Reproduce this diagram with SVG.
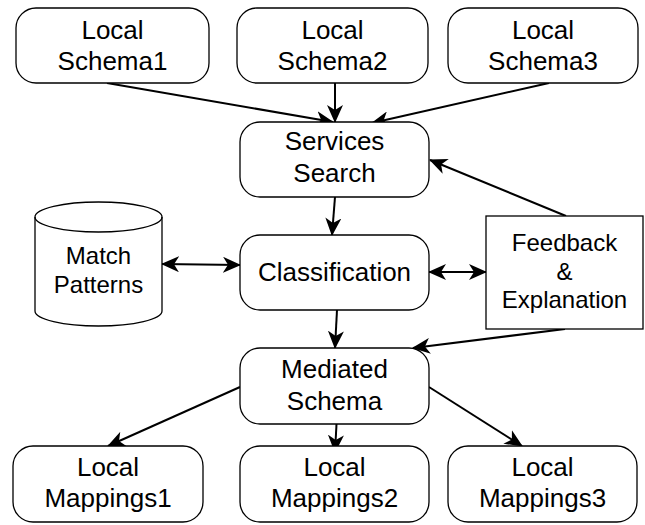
<svg xmlns="http://www.w3.org/2000/svg" width="645" height="525" viewBox="0 0 645 525">
  <defs>
    <marker id="arrow" viewBox="0 0 18 16" refX="17" refY="8" markerWidth="18" markerHeight="16" markerUnits="userSpaceOnUse" orient="auto-start-reverse">
      <path d="M0,0 L18,8 L0,16 L5,8 Z" fill="#000"/>
    </marker>
  </defs>
  <style>
    .box { fill: #fff; stroke: #000; stroke-width: 1.3; }
    .lbl { font-family: "Liberation Sans", Arial, sans-serif; font-size: 26px; fill: #000; text-anchor: middle; }
    .sm { font-size: 24px; }
    .edge { stroke: #000; stroke-width: 2; fill: none; marker-end: url(#arrow); }
    .both { marker-start: url(#arrow); }
  </style>
  <rect width="645" height="525" fill="#fff"/>

  <g id="connectors">
    <line class="edge" x1="107" y1="83" x2="333" y2="122"/>
    <line class="edge" x1="335" y1="83" x2="335" y2="122"/>
    <line class="edge" x1="549" y1="83" x2="372" y2="123"/>
    <line class="edge" x1="566" y1="216" x2="430" y2="160"/>
    <line class="edge" x1="335" y1="197" x2="332" y2="235"/>
    <line class="edge both" x1="162" y1="264" x2="240" y2="265"/>
    <line class="edge both" x1="429" y1="272" x2="486" y2="272"/>
    <line class="edge" x1="337" y1="310" x2="335" y2="348"/>
    <line class="edge" x1="565" y1="329" x2="413" y2="348"/>
    <line class="edge" x1="240" y1="387" x2="108" y2="446"/>
    <line class="edge" x1="337" y1="415" x2="335" y2="452"/>
    <line class="edge" x1="429" y1="387" x2="522" y2="446"/>
  </g>

  <g id="local-schema1">
    <rect class="box" x="16" y="8" width="193" height="75" rx="20"/>
    <text class="lbl" x="112.5" y="39">Local</text>
    <text class="lbl" x="112.5" y="70">Schema1</text>
  </g>
  <g id="local-schema2">
    <rect class="box" x="237" y="8" width="191" height="75" rx="20"/>
    <text class="lbl" x="332.5" y="39">Local</text>
    <text class="lbl" x="332.5" y="70">Schema2</text>
  </g>
  <g id="local-schema3">
    <rect class="box" x="448" y="8" width="190" height="75" rx="20"/>
    <text class="lbl" x="543" y="39">Local</text>
    <text class="lbl" x="543" y="70">Schema3</text>
  </g>

  <g id="services-search">
    <rect class="box" x="240" y="122" width="189" height="75" rx="20"/>
    <text class="lbl" x="334.5" y="150">Services</text>
    <text class="lbl" x="334.5" y="182">Search</text>
  </g>

  <g id="match-patterns">
    <path class="box" d="M35,217 A63.5,15 0 0 1 162,217 L162,311 A63.5,15 0 0 1 35,311 Z"/>
    <path class="box" style="fill:none" d="M35,217 A63.5,15 0 0 0 162,217"/>
    <text class="lbl sm" x="98.5" y="264">Match</text>
    <text class="lbl sm" x="98.5" y="293">Patterns</text>
  </g>

  <g id="classification">
    <rect class="box" x="240" y="235" width="189" height="75" rx="20"/>
    <text class="lbl" x="334.5" y="281">Classification</text>
  </g>

  <g id="feedback-explanation">
    <rect class="box" x="486" y="216" width="157" height="113"/>
    <text class="lbl sm" x="564.5" y="251">Feedback</text>
    <text class="lbl sm" x="564.5" y="280">&amp;</text>
    <text class="lbl sm" x="564.5" y="308">Explanation</text>
  </g>

  <g id="mediated-schema">
    <rect class="box" x="240" y="348" width="189" height="76" rx="20"/>
    <text class="lbl" x="334.5" y="378">Mediated</text>
    <text class="lbl" x="334.5" y="410">Schema</text>
  </g>

  <g id="local-mappings1">
    <rect class="box" x="13" y="446" width="190" height="76" rx="20"/>
    <text class="lbl" x="108" y="476">Local</text>
    <text class="lbl" x="108" y="507">Mappings1</text>
  </g>
  <g id="local-mappings2">
    <rect class="box" x="240" y="446" width="189" height="76" rx="20"/>
    <text class="lbl" x="334.5" y="476">Local</text>
    <text class="lbl" x="334.5" y="507">Mappings2</text>
  </g>
  <g id="local-mappings3">
    <rect class="box" x="448" y="446" width="189" height="76" rx="20"/>
    <text class="lbl" x="542.5" y="476">Local</text>
    <text class="lbl" x="542.5" y="507">Mappings3</text>
  </g>
</svg>
